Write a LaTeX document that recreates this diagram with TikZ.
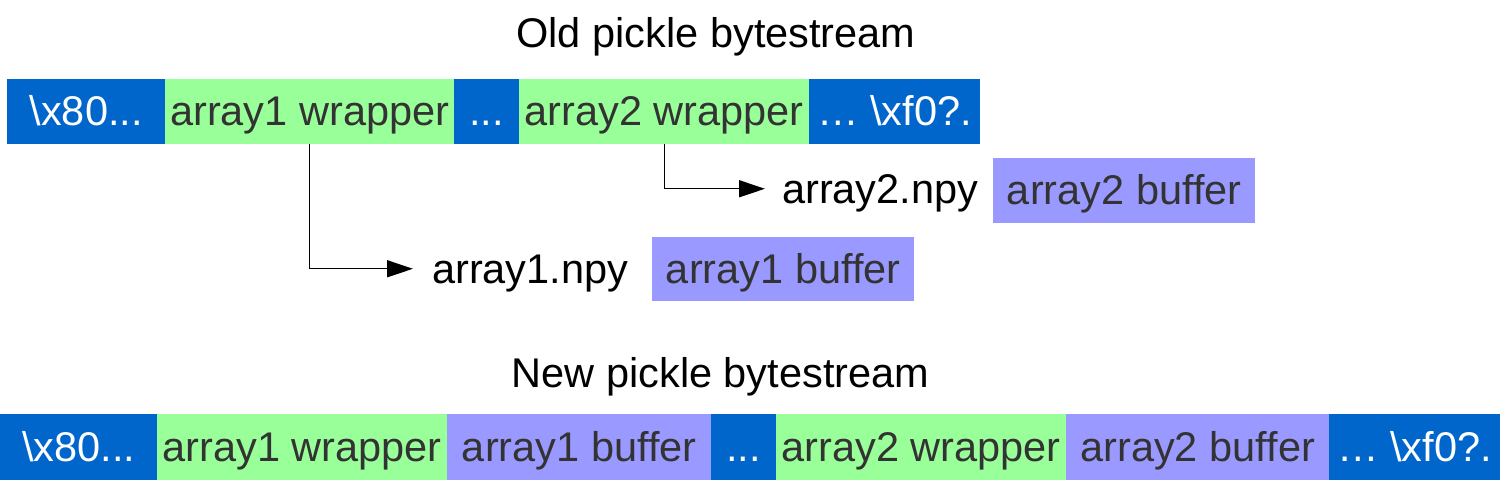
\documentclass[tikz,border=0pt]{standalone}
\usepackage{fontspec}
\setmainfont{Liberation Sans}
\usetikzlibrary{arrows.meta}
\definecolor{cblue}{HTML}{0066CC}
\definecolor{cgreen}{HTML}{99FF99}
\definecolor{cpurple}{HTML}{9999FF}
\definecolor{ctext}{HTML}{333333}
\begin{document}
\begin{tikzpicture}[x=1pt,y=-1pt,
  every node/.style={font=\fontsize{41.5pt}{50pt}\selectfont},
  cell/.style={anchor=north west,inner sep=0pt,minimum height=65pt,text height=29.5pt,text depth=1pt},
  bluecell/.style={cell,fill=cblue,text=white},
  wrapcell/.style={cell,fill=cgreen,text=ctext},
  bufcell/.style={cell,fill=cpurple,text=ctext},
  title/.style={anchor=base,inner sep=0pt,text=black},
  npy/.style={anchor=base west,inner ysep=0pt,text height=29.5pt,text depth=1pt,text=black},
  link/.style={line width=1.3pt,-{Triangle[length=26pt,width=17pt]}}]
\useasboundingbox (0,0) rectangle (1500,480);
\fill[white] (0,0) rectangle (1500,480);

% Old stream
\node[title] (t1) at (716,47) {Old pickle bytestream};
\node[bluecell,minimum width=158pt] (o1) at (7,79) {\textbackslash x80...};
\node[wrapcell,minimum width=289pt] (o2) at (165,79) {array1 wrapper};
\node[bluecell,minimum width=65pt] (o3) at (454,79) {...};
\node[wrapcell,minimum width=290pt] (o4) at (519,79) {array2 wrapper};
\node[bluecell,minimum width=171pt] (o5) at (809,79) {… \textbackslash xf0?.};

% external files
\node[npy,inner xsep=17pt] (n2) at (765,203) {array2.npy};
\node[bufcell,minimum width=262pt] (f2) at (993,158) {array2 buffer};
\node[npy,inner xsep=19pt] (n1) at (413,283) {array1.npy};
\node[bufcell,minimum width=262pt,minimum height=64pt] (f1) at (652,237) {array1 buffer};

\draw[link] (o2.south) |- (n1.west);
\draw[link] (o4.south) |- (n2.west);

% New stream
\node[title] (t2) at (720.5,387) {New pickle bytestream};
\node[bluecell,minimum width=157pt,minimum height=66pt] (m1) at (0,414) {\textbackslash x80...};
\node[wrapcell,minimum width=290pt,minimum height=66pt] (m2) at (157,414) {array1 wrapper};
\node[bufcell,minimum width=264pt,minimum height=66pt] (m3) at (447,414) {array1 buffer};
\node[bluecell,minimum width=65pt,minimum height=66pt] (m4) at (711,414) {...};
\node[wrapcell,minimum width=290pt,minimum height=66pt] (m5) at (776,414) {array2 wrapper};
\node[bufcell,minimum width=263pt,minimum height=66pt] (m6) at (1066,414) {array2 buffer};
\node[bluecell,minimum width=171pt,minimum height=66pt] (m7) at (1329,414) {… \textbackslash xf0?.};
\end{tikzpicture}
\end{document}
